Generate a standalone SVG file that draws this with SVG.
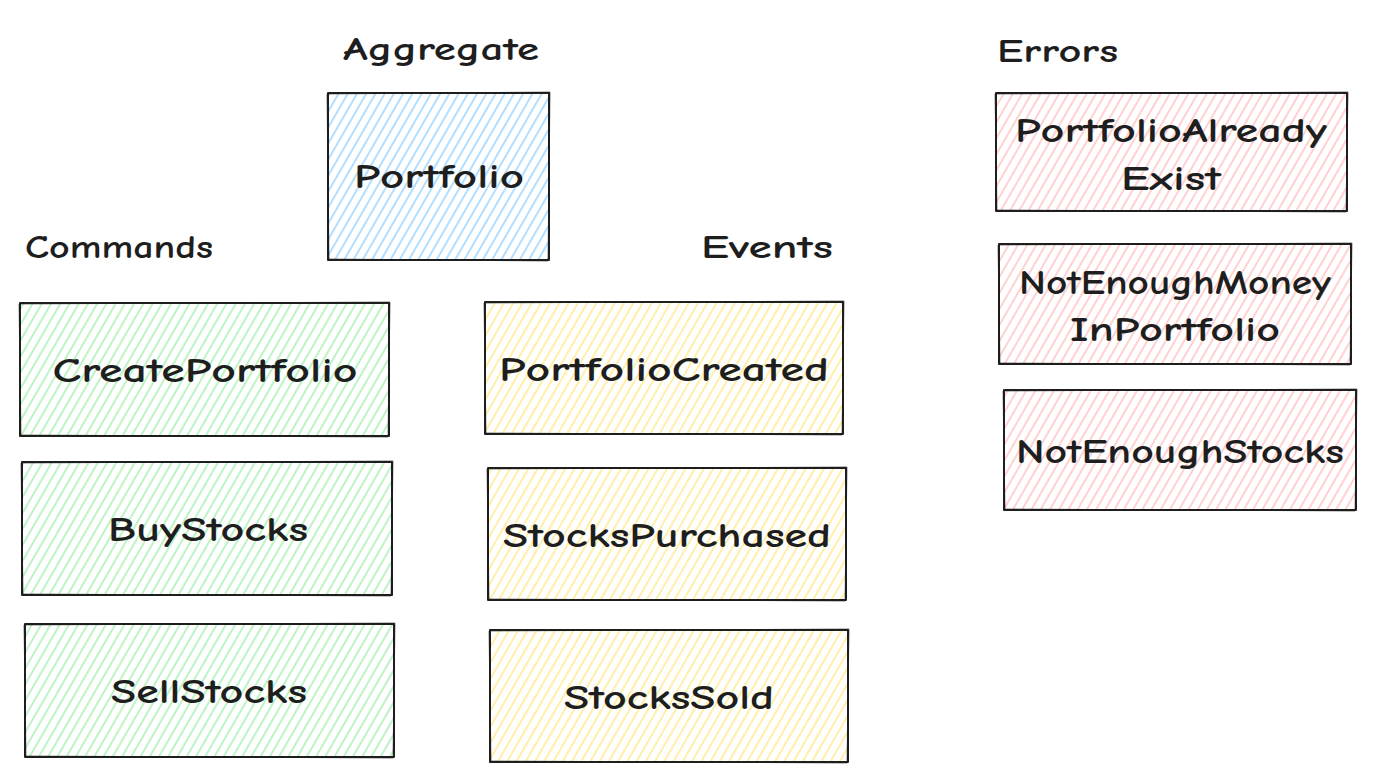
<svg xmlns="http://www.w3.org/2000/svg" width="1376" height="783" viewBox="0 0 1376 783">
<style>
.box{stroke:#1e1e1e;stroke-width:2;stroke-linejoin:round}
.sk{fill:none;stroke:#1e1e1e;stroke-width:1;opacity:0.6}
.t{font-family:"Comic Neue","DejaVu Sans","Liberation Sans",sans-serif;font-size:34px;fill:#1e1e1e;text-anchor:middle;font-weight:600}
.h{font-family:"Comic Neue","DejaVu Sans","Liberation Sans",sans-serif;font-size:32px;fill:#1e1e1e;font-weight:600}
</style>
<defs>
<pattern id="pb" width="8" height="8" patternUnits="userSpaceOnUse" patternTransform="rotate(30)"><line x1="4" y1="0" x2="4" y2="8" stroke="#a5d8ff" stroke-width="1.7"/></pattern>
<pattern id="pg" width="8" height="8" patternUnits="userSpaceOnUse" patternTransform="rotate(30)"><line x1="4" y1="0" x2="4" y2="8" stroke="#b2f2bb" stroke-width="1.7"/></pattern>
<pattern id="py" width="8" height="8" patternUnits="userSpaceOnUse" patternTransform="rotate(30)"><line x1="4" y1="0" x2="4" y2="8" stroke="#ffec99" stroke-width="1.7"/></pattern>
<pattern id="pr" width="8" height="8" patternUnits="userSpaceOnUse" patternTransform="rotate(30)"><line x1="4" y1="0" x2="4" y2="8" stroke="#ffc9c9" stroke-width="1.7"/></pattern>
</defs>
<rect width="1376" height="783" fill="#ffffff"/>
<g id="labels">
<text class="h" x="343" y="60" textLength="196" lengthAdjust="spacingAndGlyphs">Aggregate</text>
<text class="h" x="25" y="258" textLength="188" lengthAdjust="spacingAndGlyphs">Commands</text>
<text class="h" x="701" y="258" textLength="132" lengthAdjust="spacingAndGlyphs">Events</text>
<text class="h" x="997" y="62" textLength="121" lengthAdjust="spacingAndGlyphs">Errors</text>
</g>
<g id="portfolio">
<path class="box" fill="url(#pb)" d="M328,93 L549,93 L549,260 L328,260 Z"/>
<path class="sk" d="M327,94 L550,92 L548,261 L329,259 Z"/>
<text class="t" x="439" y="188" textLength="170" lengthAdjust="spacingAndGlyphs">Portfolio</text>
</g>
<g id="createportfolio">
<path class="box" fill="url(#pg)" d="M20,303 L389,303 L389,436 L20,436 Z"/>
<path class="sk" d="M19,304 L390,302 L388,437 L21,435 Z"/>
<text class="t" x="205" y="382" textLength="305" lengthAdjust="spacingAndGlyphs">CreatePortfolio</text>
</g>
<g id="buystocks">
<path class="box" fill="url(#pg)" d="M22,462 L392,462 L392,595 L22,595 Z"/>
<path class="sk" d="M21,463 L393,461 L391,596 L23,594 Z"/>
<text class="t" x="208" y="541" textLength="200" lengthAdjust="spacingAndGlyphs">BuyStocks</text>
</g>
<g id="sellstocks">
<path class="box" fill="url(#pg)" d="M25,624 L394,624 L394,757 L25,757 Z"/>
<path class="sk" d="M24,625 L395,623 L393,758 L26,756 Z"/>
<text class="t" x="209" y="703" textLength="196" lengthAdjust="spacingAndGlyphs">SellStocks</text>
</g>
<g id="portfoliocreated">
<path class="box" fill="url(#py)" d="M485,302 L843,302 L843,434 L485,434 Z"/>
<path class="sk" d="M484,303 L844,301 L842,435 L486,433 Z"/>
<text class="t" x="664" y="381" textLength="330" lengthAdjust="spacingAndGlyphs">PortfolioCreated</text>
</g>
<g id="stockspurchased">
<path class="box" fill="url(#py)" d="M488,468 L846,468 L846,600 L488,600 Z"/>
<path class="sk" d="M487,469 L847,467 L845,601 L489,599 Z"/>
<text class="t" x="667" y="547" textLength="328" lengthAdjust="spacingAndGlyphs">StocksPurchased</text>
</g>
<g id="stockssold">
<path class="box" fill="url(#py)" d="M490,630 L848,630 L848,762 L490,762 Z"/>
<path class="sk" d="M489,631 L849,629 L847,763 L491,761 Z"/>
<text class="t" x="669" y="709" textLength="210" lengthAdjust="spacingAndGlyphs">StocksSold</text>
</g>
<g id="portfolioalreadyexist">
<path class="box" fill="url(#pr)" d="M996,93 L1347,93 L1347,211 L996,211 Z"/>
<path class="sk" d="M995,94 L1348,92 L1346,212 L997,210 Z"/>
<text class="t" x="1171" y="142" textLength="312" lengthAdjust="spacingAndGlyphs">PortfolioAlready</text>
<text class="t" x="1171" y="190" textLength="100" lengthAdjust="spacingAndGlyphs">Exist</text>
</g>
<g id="notenoughmoney">
<path class="box" fill="url(#pr)" d="M999,244 L1351,244 L1351,364 L999,364 Z"/>
<path class="sk" d="M998,245 L1352,243 L1350,365 L1000,363 Z"/>
<text class="t" x="1175" y="294" textLength="312" lengthAdjust="spacingAndGlyphs">NotEnoughMoney</text>
<text class="t" x="1175" y="341" textLength="210" lengthAdjust="spacingAndGlyphs">InPortfolio</text>
</g>
<g id="notenoughstocks">
<path class="box" fill="url(#pr)" d="M1004,390 L1356,390 L1356,510 L1004,510 Z"/>
<path class="sk" d="M1003,391 L1357,389 L1355,511 L1005,509 Z"/>
<text class="t" x="1180" y="463" textLength="328" lengthAdjust="spacingAndGlyphs">NotEnoughStocks</text>
</g>
<g id="connectors"></g>
</svg>
